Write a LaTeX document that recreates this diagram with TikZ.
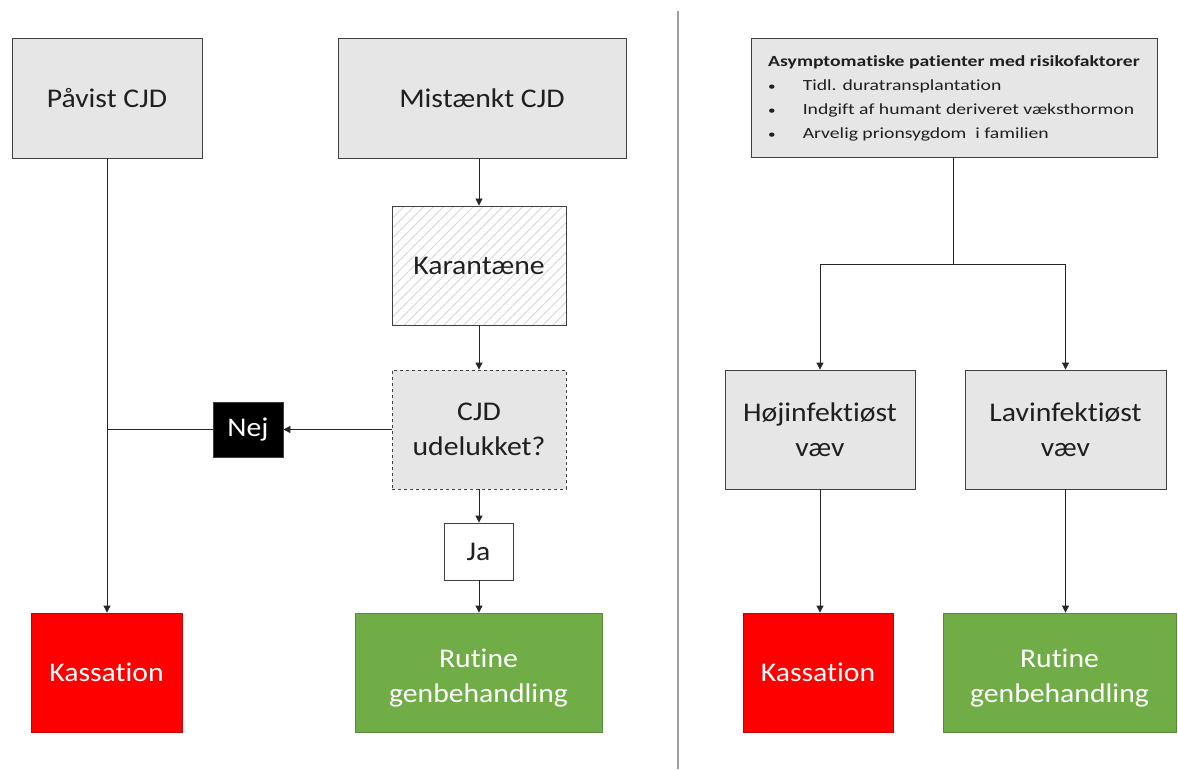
\documentclass[tikz,border=0pt]{standalone}
\usepackage{fontspec}
\setmainfont{Carlito}[FakeStretch=1.1,Ligatures=NoCommon]
\newfontfamily\smallfont{Carlito}[FakeStretch=1.27,Ligatures=NoCommon]
\usetikzlibrary{arrows.meta,patterns.meta}
\definecolor{boxgray}{HTML}{E6E6E6}
\definecolor{edgegray}{HTML}{404040}
\definecolor{kasred}{HTML}{FF0000}
\definecolor{rutgreen}{HTML}{70AD47}
\newcommand{\smallbul}{{\fontsize{12}{12}\selectfont\textbullet}}
\tikzset{
  x=1pt,y=-1pt,
  base/.style={draw=edgegray,line width=0.8pt,inner sep=2pt,align=center,font=\fontsize{27}{35}\selectfont,text=black!88},
  graybox/.style={base,fill=boxgray},
  hatchbox/.style={base,pattern={Lines[angle=45,distance=7pt,line width=0.9pt]},pattern color=black!16},
  dashbox/.style={base,fill=boxgray,dashed},
  redbox/.style={base,fill=kasred,draw=kasred!80!black,text=white},
  greenbox/.style={base,fill=rutgreen,draw=rutgreen!80!black,text=white},
  nejbox/.style={base,fill=black,text=white},
  jabox/.style={base,fill=white},
  conn/.style={line width=0.8pt,draw=black!85},
  arr/.style={conn,-{Triangle[length=7pt,width=7pt]}},
}
\begin{document}
\begin{tikzpicture}
\useasboundingbox (0,0) rectangle (1178,769);
% separator
\draw[gray!75,line width=1.2pt] (678,11) -- (678,769);
% left side
\node[graybox,minimum width=190pt,minimum height=120pt] (pavist) at (107,98) {Påvist CJD};
\node[graybox,minimum width=288pt,minimum height=120pt] (mist) at (482,98) {Mistænkt CJD};
\node[hatchbox,minimum width=174pt,minimum height=119pt] (kar) at (479,265.5) {Karantæne};
\node[dashbox,minimum width=174pt,minimum height=119pt] (cjd) at (479,429.5) {CJD\\udelukket?};
\node[nejbox,minimum width=70pt,minimum height=55pt] (nej) at (248,429.5) {Nej};
\node[jabox,minimum width=69pt,minimum height=57pt] (ja) at (478.5,551.5) {Ja};
\node[redbox,minimum width=151pt,minimum height=119pt] (kasL) at (106.5,672.5) {Kassation};
\node[greenbox,minimum width=247pt,minimum height=119pt] (rutL) at (478.5,672.5) {\rule{0pt}{30pt}Rutine\\genbehandling};
% right side
\node[graybox,minimum width=406pt,minimum height=119pt,font=\smallfont\fontsize{15.5}{24}\selectfont] (asym) at (954,97.5) {%
\begin{tabular}{@{}l@{\hspace{27pt}}l@{}}
\multicolumn{2}{@{}l@{}}{\textbf{Asymptomatiske patienter med risikofaktorer}}\\
\smallbul & Tidl. duratransplantation\\
\smallbul & Indgift af humant deriveret væksthormon\\
\smallbul & Arvelig prionsygdom\ \ i familien
\end{tabular}};
\node[graybox,minimum width=190pt,minimum height=119pt] (hoj) at (820,429.5) {Højinfektiøst\\væv};
\node[graybox,minimum width=201pt,minimum height=119pt] (lav) at (1065.5,429.5) {Lavinfektiøst\\væv};
\node[redbox,minimum width=150pt,minimum height=119pt] (kasR) at (818,672.5) {Kassation};
\node[greenbox,minimum width=233pt,minimum height=119pt] (rutR) at (1059.5,672.5) {\rule{0pt}{30pt}Rutine\\genbehandling};
% connectors left
\draw[arr] (pavist.south) -- (pavist.south |- kasL.north);
\draw[conn] (nej.west) -- (nej.west -| pavist.south);
\draw[arr] (mist.south -| kar.north) -- (kar.north);
\draw[arr] (kar.south) -- (cjd.north);
\draw[arr] (cjd.west) -- (cjd.west -| nej.east);
\draw[arr] (cjd.south) -- (cjd.south |- ja.north);
\draw[arr] (cjd.south |- ja.south) -- (cjd.south |- rutL.north);
% connectors right
\coordinate (split) at (953,264);
\draw[conn] (asym.south -| split) -- (split);
\draw[arr] (split) -| (hoj.north);
\draw[arr] (split) -| (lav.north);
\draw[arr] (hoj.south) -- (hoj.south |- kasR.north);
\draw[arr] (lav.south) -- (lav.south |- rutR.north);
\end{tikzpicture}
\end{document}
